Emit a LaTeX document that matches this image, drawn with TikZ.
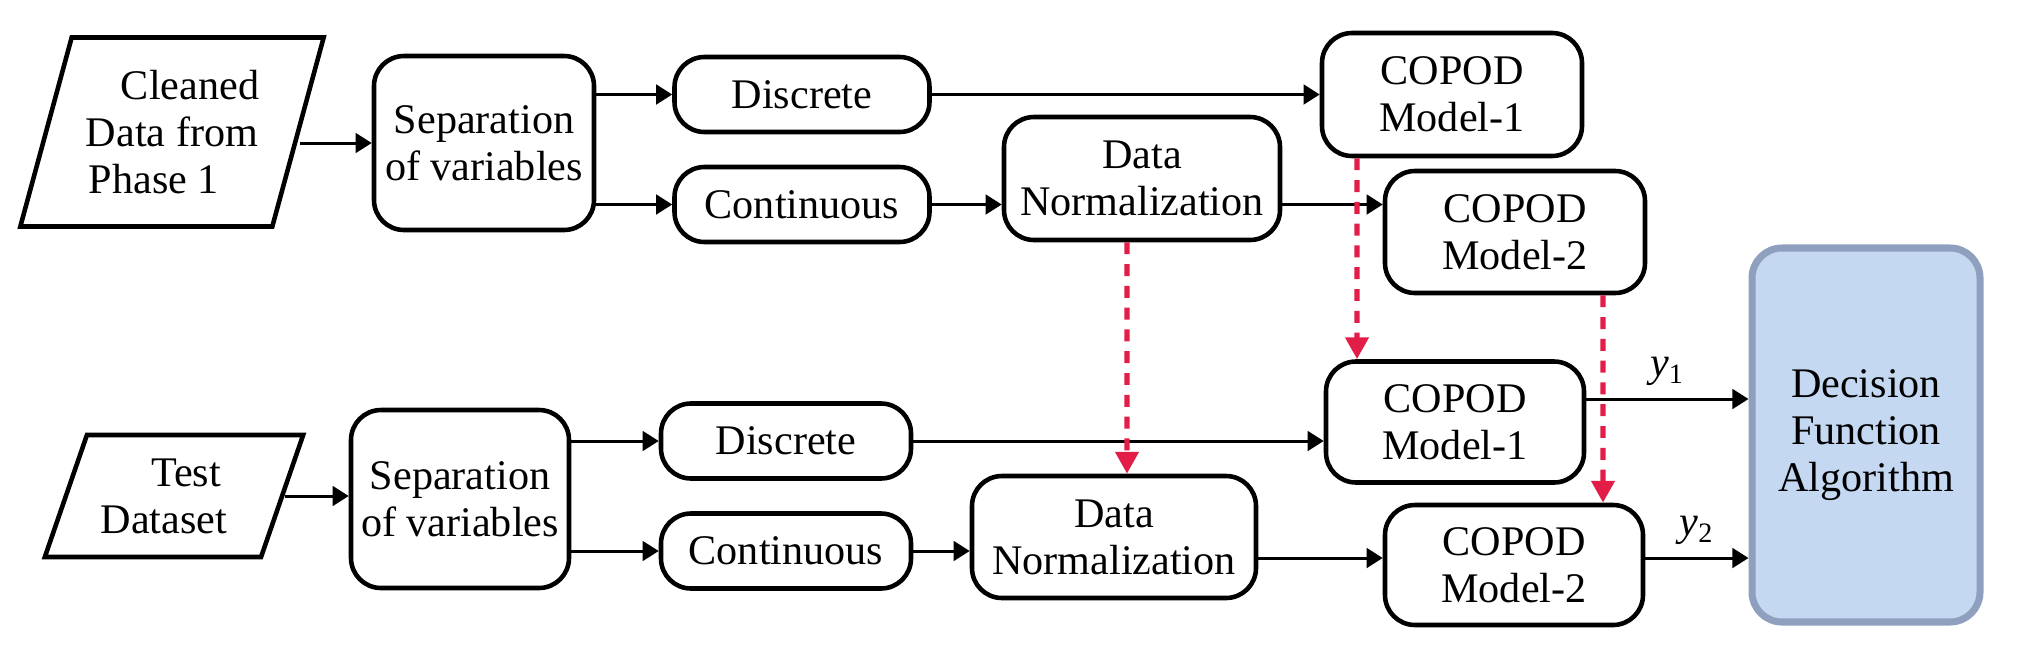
\documentclass[tikz,border=0pt]{standalone}
\usepackage{fontspec}
\setmainfont{Liberation Serif}
\definecolor{dashred}{RGB}{226,30,72}
\definecolor{decfill}{RGB}{196,216,242}
\definecolor{decline}{RGB}{143,160,190}
\usetikzlibrary{shapes.geometric,arrows.meta}

\begin{document}
\begin{tikzpicture}[
  font=\fontsize{12}{13.4}\selectfont,
  box/.style={draw, line width=1.3pt, rounded corners=0.3cm, align=center, inner sep=2pt},
  pill/.style={box, minimum width=2.55cm, minimum height=0.75cm},
  para/.style={draw, line width=1.3pt, trapezium, trapezium stretches=true, align=center, inner sep=1pt},
  arr/.style={line width=0.85pt, -{Triangle[length=4.6pt,width=5.6pt]}},
  red arr/.style={dashred, line width=1.5pt, dash pattern=on 3.4pt off 2.8pt, -{Triangle[length=6.2pt,width=6.4pt]}}
]
\useasboundingbox (0,0) rectangle (20.2,6.54);

%% Phase 1 (training) row
\node[para, trapezium left angle=70.5, trapezium right angle=109.5, minimum width=3.04cm, minimum height=1.89cm] (in1) at (1.72,5.22) {\hspace*{0.36cm}Cleaned\\Data from\\Phase 1\hspace*{0.36cm}};
\node[box, minimum width=2.2cm, minimum height=1.74cm] (sep1) at (4.84,5.11) {Separation\\of variables};
\node[pill] (disc1) at (8.02,5.595) {Discrete};
\node[pill] (cont1) at (8.02,4.495) {Continuous};
\node[box, minimum width=2.76cm, minimum height=1.23cm] (norm1) at (11.42,4.755) {Data\\Normalization};
\node[box, minimum width=2.6cm, minimum height=1.23cm] (cop1a) at (14.52,5.595) {COPOD\\Model-1};
\node[box, minimum width=2.6cm, minimum height=1.22cm] (cop2a) at (15.15,4.22) {COPOD\\Model-2};

%% Test row
\node[para, trapezium left angle=65.7, trapezium right angle=114.3, minimum width=2.59cm, minimum height=1.22cm] (in2) at (1.74,1.58) {\hspace*{0.24cm}Test\\Dataset\hspace*{0.2cm}};
\node[box, minimum width=2.18cm, minimum height=1.78cm] (sep2) at (4.60,1.55) {Separation\\of variables};
\node[pill, minimum width=2.5cm] (disc2) at (7.86,2.13) {Discrete};
\node[pill, minimum width=2.5cm] (cont2) at (7.86,1.03) {Continuous};
\node[box, minimum width=2.84cm, minimum height=1.22cm] (norm2) at (11.14,1.17) {Data\\Normalization};
\node[box, minimum width=2.58cm, minimum height=1.21cm] (cop1b) at (14.55,2.32) {COPOD\\Model-1};
\node[box, minimum width=2.58cm, minimum height=1.2cm] (cop2b) at (15.14,0.89) {COPOD\\Model-2};

%% Decision box
\node[box, draw=decline, fill=decfill, line width=2pt, minimum width=2.28cm, minimum height=3.74cm] (dec) at (18.66,2.19) {Decision\\Function\\Algorithm};

%% Arrows, phase 1
\draw[arr] (in1.east |- sep1.west) -- (sep1.west);
\draw[arr] (sep1.east |- disc1.west) -- (disc1.west);
\draw[arr] (sep1.east |- cont1.west) -- (cont1.west);
\draw[arr] (disc1.east) -- (disc1.east -| cop1a.west);
\draw[arr] (cont1.east) -- (cont1.east -| norm1.west);
\draw[arr] (norm1.east |- cont1.east) -- (cont1.east -| cop2a.west);

%% Arrows, test
\draw[arr] (in2.east) -- (in2.east -| sep2.west);
\draw[arr] (sep2.east |- disc2.west) -- (disc2.west);
\draw[arr] (sep2.east |- cont2.west) -- (cont2.west);
\draw[arr] (disc2.east) -- (disc2.east -| cop1b.west);
\draw[arr] (cont2.east) -- (cont2.east -| norm2.west);
\draw[arr] ([yshift=-2.1mm]norm2.east) -- ([yshift=-2.1mm]norm2.east -| cop2b.west);
\draw[arr] ([yshift=2.3mm]cop1b.east) -- ([yshift=2.3mm]cop1b.east -| dec.west) node[midway, above] {\textit{y}\textsubscript{1}};
\draw[arr] ([yshift=0.7mm]cop2b.east) -- ([yshift=0.7mm]cop2b.east -| dec.west) node[midway, above] {\textit{y}\textsubscript{2}};

%% Transfer of fitted parameters
\draw[red arr] ([xshift=-1.5mm]norm1.south) -- ([xshift=1.3mm]norm2.north);
\draw[red arr] ([xshift=-9.5mm]cop1a.south) -- ([xshift=-9.8mm]cop1b.north);
\draw[red arr] ([xshift=8.8mm]cop2a.south) -- ([xshift=8.9mm]cop2b.north);
\end{tikzpicture}
\end{document}
